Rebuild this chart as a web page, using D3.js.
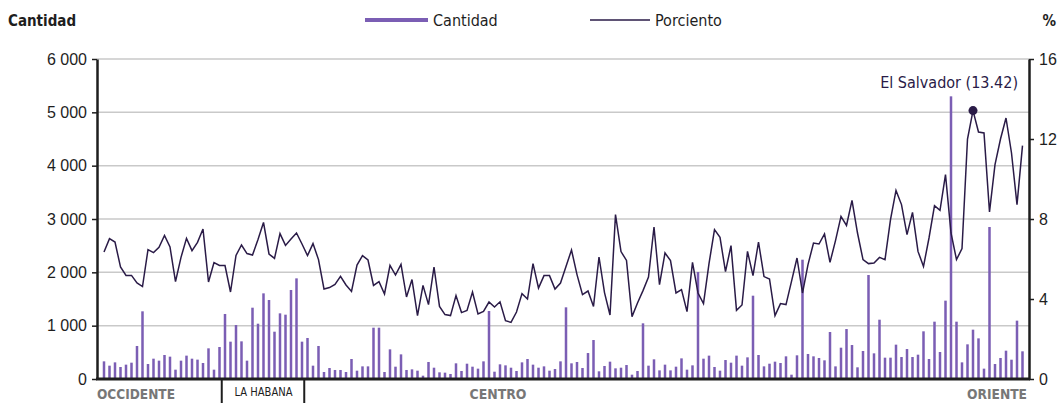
<!DOCTYPE html>
<html>
<head>
<meta charset="utf-8">
<script src="https://cdn.jsdelivr.net/npm/d3@7"></script>
<style>
  html, body { margin: 0; padding: 0; background: #fff; }
  svg { display: block; font-family: "DejaVu Sans Condensed", "DejaVu Sans", sans-serif; font-stretch: condensed; }
</style>
</head>
<body>
<svg id="chart" width="1063" height="403"></svg>
<script>
'use strict';

// cantidad por municipio (168), en orden de occidente a oriente
const cantidad = [
  331, 250, 312, 225, 269, 306, 619, 1269, 281, 381, 344, 450, 419, 175, 344, 438, 381, 363, 300, 575, 175, 600,
  1219, 700, 1012, 706, 344, 1337, 1037, 1606, 1481, 887, 1231, 1206, 1669, 1887, 700,
  769, 250, 619, 131, 206, 169, 169, 131, 375, 156, 237, 237, 962, 962, 131, 556, 231, 462, 169, 181, 156, 62,
  319, 212, 125, 119, 94, 294, 150, 287, 231, 194, 331, 1275, 137, 275, 256, 212, 150, 312, 375, 269, 212, 237,
  156, 187, 331, 1344, 294, 319, 206, 487, 731, 144, 244, 325, 200, 212, 262, 81, 150, 1044, 250, 369, 162, 269,
  162, 231, 387, 175, 256, 2006, 381, 438, 225, 156,
  356, 306, 438, 250, 406, 1562, 450, 237, 287, 325, 300, 425, 81, 444, 2237, 469, 425, 394, 350, 881, 237, 587,
  937, 637, 219, 525, 1950, 481, 1112, 400, 400, 644, 412, 562, 412, 456, 894, 375, 1075, 506, 1469, 5300, 1075,
  312, 650, 925, 762, 194, 2850, 281, 394, 531, 362, 1094, 519
];

// porciento por municipio
const porciento = [
  6.35, 7.02, 6.85, 5.6, 5.18, 5.18, 4.8, 4.62, 6.47, 6.32, 6.58, 7.18, 6.6, 4.87, 6.08, 7.03, 6.42, 6.83, 7.5, 4.85, 5.82, 5.68,
  5.67, 4.35, 6.18, 6.7, 6.27, 6.2, 6.97, 7.83, 6.25, 6.03, 7.27, 6.68, 7.0, 7.3, 6.75,
  6.17, 6.77, 5.97, 4.5, 4.57, 4.73, 5.13, 4.7, 4.38, 5.7, 6.17, 5.95, 4.68, 4.87, 4.25, 5.68, 5.2, 5.73, 4.1, 4.97, 3.17, 4.68,
  3.72, 5.6, 3.63, 3.22, 3.17, 4.17, 3.32, 3.43, 4.35, 3.25, 3.38, 3.85, 3.6, 3.86, 2.92, 2.83, 3.35, 4.27, 4.0, 5.77, 4.55, 5.17,
  5.17, 4.5, 4.8, 5.63, 6.45, 5.22, 4.22, 4.4, 3.63, 6.1, 4.32, 3.2, 8.22, 6.37, 5.93, 3.12, 3.8, 4.42, 5.1, 7.6, 4.72, 6.3,
  5.92, 4.3, 4.47, 3.37, 5.83, 4.3, 3.77, 5.77, 7.47, 7.08,
  5.37, 6.67, 3.43, 3.7, 6.38, 5.17, 6.85, 5.12, 5.0, 3.17, 3.77, 3.72, 4.88, 6.05, 4.3, 5.72, 6.8, 6.75, 7.25, 5.83, 6.92, 8.13,
  7.68, 8.93, 7.3, 5.97, 5.77, 5.8, 6.08, 5.97, 7.97, 9.43, 8.72, 7.22, 8.33, 6.38, 5.63, 7.05, 8.67, 8.43, 10.22, 7.3, 5.97,
  6.52, 12.0, 13.42, 12.35, 12.3, 8.35, 10.72, 12.0, 13.05, 11.3, 8.72, 11.67
];

// regiones y cantidad de municipios en cada una
const regiones = ["OCCIDENTE", "LA HABANA", "CENTRO", "ORIENTE"];
const municipiosRegion = [22, 15, 76, 55];

const ticksCantidad = [0, 1000, 2000, 3000, 4000, 5000, 6000];
const ticksPorciento = [0, 4, 8, 12, 16];

const destacado = { nombre: "El Salvador", indice: 158 };

const barColor = "#7b5eb4";
const lineColor = "#2a1b47";
const inkColor = "#1e1e1e";

const svg = d3.select("#chart");

const axisLeftX = 97, axisRightX = 1029;
const plotTop = 59, plotBottom = 379;

const x = d3.scaleBand()
  .domain(d3.range(cantidad.length))
  .range([101.25, 1025.25]);

const y = d3.scaleLinear().domain([0, 6000]).range([plotBottom, plotTop]);
const y2 = d3.scaleLinear().domain([0, 16]).range([plotBottom, plotTop]);

const locale = d3.formatLocale({ decimal: ",", thousands: " ", grouping: [3], currency: ["", ""] });
const fmt = locale.format(",d");

// grid
svg.append("g")
  .selectAll("line")
  .data(ticksCantidad.filter(d => d > 0))
  .enter().append("line")
    .attr("x1", axisLeftX)
    .attr("x2", axisRightX)
    .attr("y1", d => y(d))
    .attr("y2", d => y(d))
    .attr("stroke", "#c9c9c9")
    .attr("stroke-width", 1.5);

// bars
svg.append("g")
  .selectAll("rect")
  .data(cantidad)
  .enter().append("rect")
    .attr("x", (d, i) => x(i) + x.bandwidth() / 2 - 1.25)
    .attr("width", 2.5)
    .attr("y", d => y(d))
    .attr("height", d => y(0) - y(d))
    .attr("fill", barColor);

// line
const line = d3.line()
  .x((d, i) => x(i) + x.bandwidth() / 2)
  .y(d => y2(d));

svg.append("path")
  .datum(porciento)
  .attr("d", line)
  .attr("fill", "none")
  .attr("stroke", lineColor)
  .attr("stroke-width", 1.5)
  .attr("stroke-linejoin", "miter");

// highlighted point
const hx = x(destacado.indice) + x.bandwidth() / 2;
const hy = y2(porciento[destacado.indice]);
svg.append("circle")
  .attr("cx", hx)
  .attr("cy", hy)
  .attr("r", 4.5)
  .attr("fill", lineColor);

svg.append("text")
  .attr("x", 1018)
  .attr("y", hy - 23)
  .attr("text-anchor", "end")
  .attr("font-size", 16)
  .attr("fill", lineColor)
  .text(destacado.nombre + " (" + porciento[destacado.indice].toFixed(2) + ")");

// axes
const leftAxis = svg.append("g")
  .attr("transform", "translate(" + axisLeftX + ",0)")
  .call(d3.axisLeft(y).tickValues(ticksCantidad).tickFormat(fmt).tickSize(5).tickSizeOuter(0).tickPadding(5));

const rightAxis = svg.append("g")
  .attr("transform", "translate(" + axisRightX + ",0)")
  .call(d3.axisRight(y2).tickValues(ticksPorciento).tickSize(5).tickSizeOuter(0).tickPadding(5));

[leftAxis, rightAxis].forEach(g => {
  g.select(".domain").attr("stroke", inkColor).attr("stroke-width", 2.5);
  g.selectAll(".tick line").attr("stroke", inkColor).attr("stroke-width", 1.5);
  g.selectAll(".tick text")
    .attr("fill", inkColor)
    .attr("font-size", 16)
    .attr("font-family", null);
});

// baseline
svg.append("line")
  .attr("x1", axisLeftX - 1)
  .attr("x2", axisRightX + 1)
  .attr("y1", y(0))
  .attr("y2", y(0))
  .attr("stroke", inkColor)
  .attr("stroke-width", 3);

// regions under the axis
let start = 0;
const limites = municipiosRegion.map(n => {
  const r = [start, start + n];
  start += n;
  return r;
});

svg.append("g")
  .selectAll("line")
  .data(limites.slice(1, 3))
  .enter().append("line")
    .attr("x1", d => x(d[0]) - 0.5)
    .attr("x2", d => x(d[0]) - 0.5)
    .attr("y1", plotBottom + 1)
    .attr("y2", 403)
    .attr("stroke", inkColor)
    .attr("stroke-width", 2);

// text widths (condensed face)
const anchoEtiqueta = [78, 58, 57, 60];

regiones.forEach((nombre, i) => {
  const a = x(limites[i][0]), b = x(limites[i][1] - 1) + x.bandwidth();
  let tx = (a + b) / 2, anchor = "middle";
  if (i === 0) { tx = axisLeftX; anchor = "start"; }
  if (i === 2) { tx = 498; }
  if (i === regiones.length - 1) { tx = axisRightX - 2; anchor = "end"; }
  const habana = nombre === "LA HABANA";
  svg.append("text")
    .attr("x", tx)
    .attr("y", habana ? 396 : 399)
    .attr("text-anchor", anchor)
    .attr("font-size", habana ? 12 : 14)
    .attr("font-weight", habana ? "normal" : "bold")
    .attr("textLength", anchoEtiqueta[i])
    .attr("lengthAdjust", "spacingAndGlyphs")
    .attr("fill", habana ? inkColor : "#777")
    .text(nombre);
});

// headers
svg.append("text")
  .attr("x", 8)
  .attr("y", 26)
  .attr("font-size", 15)
  .attr("font-weight", "bold")
  .attr("fill", inkColor)
  .text("Cantidad");

svg.append("text")
  .attr("x", 1056)
  .attr("y", 26)
  .attr("text-anchor", "end")
  .attr("font-size", 15)
  .attr("font-weight", "bold")
  .attr("fill", inkColor)
  .text("%");

// legend
const legend = [
  { label: "Cantidad", color: barColor, width: 4, x0: 365, x1: 428 },
  { label: "Porciento", color: lineColor, width: 1.5, x0: 590, x1: 650 }
];

legend.forEach(d => {
  svg.append("line")
    .attr("x1", d.x0)
    .attr("x2", d.x1)
    .attr("y1", 20)
    .attr("y2", 20)
    .attr("stroke", d.color)
    .attr("stroke-width", d.width);
  svg.append("text")
    .attr("x", d.x1 + 5)
    .attr("y", 26)
    .attr("font-size", 16)
    .attr("fill", inkColor)
    .text(d.label);
});
</script>
</body>
</html>
